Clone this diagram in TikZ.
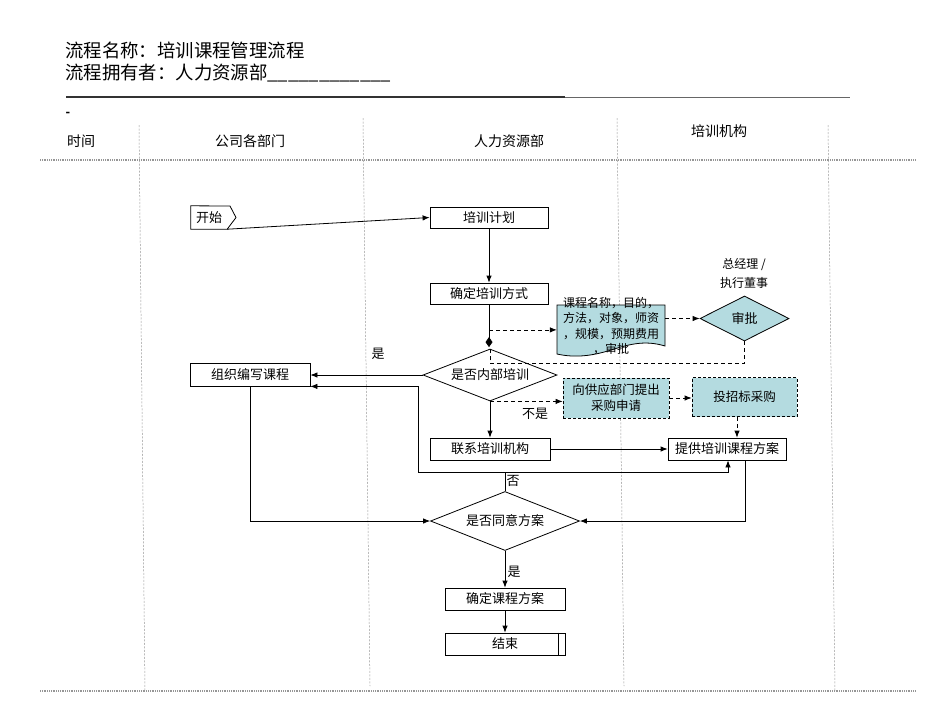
\documentclass[tikz,border=0pt]{standalone}
\usepackage{fontspec}
\setmainfont{Noto Sans CJK SC}
\usetikzlibrary{shapes.geometric,arrows.meta,calc}
\definecolor{teal1}{RGB}{180,219,224}
\definecolor{lanec}{RGB}{150,150,150}
\begin{document}
\begin{tikzpicture}[x=1pt,y=-1pt,
  box/.style={draw,fill=white,line width=0.8pt,minimum height=22pt,inner sep=0pt,font=\fontsize{13}{15}\selectfont},
  tbox/.style={draw,fill=teal1,line width=0.8pt,dash pattern=on 3pt off 2pt,inner sep=0pt,align=center,font=\fontsize{12.5}{16}\selectfont},
  dia/.style={diamond,draw,fill=white,line width=0.8pt,inner sep=0pt,font=\fontsize{13}{15}\selectfont},
  arr/.style={-{Latex[length=7pt,width=5.5pt]},line width=0.8pt},
  darr/.style={arr,dash pattern=on 4pt off 3pt},
  dline/.style={line width=0.8pt,dash pattern=on 4pt off 3pt},
  lbl/.style={font=\fontsize{13}{15}\selectfont,inner sep=0pt},
  hdr/.style={font=\fontsize{14}{16}\selectfont,inner sep=0pt},
  laneline/.style={draw=lanec,line width=0.5pt,dash pattern=on 2pt off 1.5pt},
  hline/.style={draw=lanec,line width=1.3pt,dash pattern=on 1pt off 0.8pt},
]
\useasboundingbox (0,0) rectangle (950,713);
% title
\node[anchor=west,inner sep=0,font=\fontsize{18.4}{20}\selectfont] (t1) at (65,50) {流程名称：培训课程管理流程};
\node[anchor=west,inner sep=0,font=\fontsize{18.4}{20}\selectfont] (t2) at (65,73) {流程拥有者：人力资源部\_\_\_\_\_\_\_\_\_\_\_\_};
\draw[line width=1.8pt,draw=black!80] (66,97) -- (565,97);
\draw[line width=0.8pt,draw=black!60] (565,97) -- (850,97);
\node[inner sep=0,font=\fontsize{12}{14}\selectfont\bfseries] (dsh) at (68,114) {-};
% headers
\node[hdr] (h0) at (81,141) {时间};
\node[hdr] (h1) at (250,141) {公司各部门};
\node[hdr] (h2) at (509,141) {人力资源部};
\node[hdr] (h3) at (719,131) {培训机构};
% lanes
\draw[laneline] (139,125) -- (145,691);
\draw[laneline] (363,118) -- (370,686);
\draw[laneline] (617,118) -- (624,686);
\draw[laneline] (828,125) -- (835,691);
\draw[hline] (40,160) -- (915,160);
\draw[hline] (40,691) -- (915,691);
% start
\node[inner sep=0,minimum width=36pt,minimum height=23pt,font=\fontsize{13}{15}\selectfont] (start) at (209,217.5) {开始};
\draw[line width=0.8pt] (start.north west) -- (230,206) -- (236,217.5) -- (start.south east) -- (start.south west) -- cycle;
% nodes
\node[box,minimum width=118pt,minimum height=21pt] (plan) at (489,217.5) {培训计划};
\node[box,minimum width=118pt,minimum height=21pt] (mode) at (489,293.5) {确定培训方式};
\node[dia,minimum width=134pt,minimum height=52pt,aspect=2.58] (d1) at (490,375) {是否内部培训};
\node[box,minimum width=120pt,minimum height=23pt] (write) at (250,374.5) {组织编写课程};
\node[box,minimum width=120pt,minimum height=22pt] (contact) at (490,449) {联系培训机构};
\node[box,minimum width=118pt,minimum height=22pt] (provide) at (727,449) {提供培训课程方案};
\node[tbox,minimum width=106pt,minimum height=40pt] (req) at (616,398) {向供应部门提出\\采购申请};
\node[tbox,minimum width=105pt,minimum height=39pt] (bid) at (744.5,397) {投招标采购};
\node[dia,fill=teal1,minimum width=89pt,minimum height=45pt,aspect=2] (appr) at (744.5,318.5) {审批};
\node[lbl,font=\fontsize{12}{14}\selectfont] (gm) at (744,265) {总经理 /};
\node[lbl,font=\fontsize{12}{14}\selectfont] (ed) at (744,283) {执行董事};
\node[dia,minimum width=149pt,minimum height=59pt,aspect=2.5] (d2) at (505,521) {是否同意方案};
\node[box,minimum width=120pt] (conf) at (505,599) {确定课程方案};
\node[box,minimum width=120pt] (endn) at (505,644) {结束};
\draw[line width=0.8pt] ([xshift=-7pt]endn.north east) -- ([xshift=-7pt]endn.south east);
% document
\path[draw,fill=teal1,line width=0.8pt] (557,305) -- (665,305) -- (665,346) .. controls (645,340) and (630,344) .. (611,350) .. controls (592,356) and (575,358) .. (557,354) -- cycle;
\node[inner sep=0,minimum width=108pt,align=center,font=\fontsize{12}{15.3}\selectfont] (doc) at (611,326) {课程名称，目的，\\方法，对象，师资\\，规模，预期费用\\，审批};
% connectors
\draw[arr] (start.south east) -- (plan.west);
\draw[arr] (plan.south) -- (plan.south |- mode.north);
\draw[line width=0.8pt,-{Diamond[length=10pt,width=7pt]},shorten >=1.5pt] (mode.south) -- (mode.south |- d1.north);
\coordinate (k1) at ($(mode.south)+(0,25.5)$);
\draw[darr] (k1) -- (k1 -| doc.west);
\draw[darr] (doc.east |- appr.west) -- (appr.west);
\coordinate (k2) at ($(d1.north)+(0,15)$);
\draw[dline] (appr.south) |- (k2) -- (d1.north);
\draw[arr] (d1.west) -- (d1.west -| write.east);
\node[lbl] (yes1) at (378,354) {是};
\draw[arr] (d1.south) -- (d1.south |- contact.north);
\draw[darr] (d1.south) -- (d1.south -| req.west);
\node[lbl] (no1) at (535,414) {不是};
\draw[darr] (req.east) -- (req.east -| bid.west);
\draw[darr] ([xshift=-7.5pt]bid.south) -- ([xshift=-7.5pt]bid.south |- provide.north);
\draw[arr] (contact.east) -- (provide.west);
\coordinate (k3) at ($(d2.north)+(0,-19)$);
\coordinate (k4) at ($(k3)+(-87,0)$);
\draw[arr] (d2.north) -- (k3) -- (k4) |- (write.south east);
\draw[arr] (k3) -| ([xshift=1pt]provide.south);
\node[lbl] (no2) at (513,481) {否};
\draw[arr] (write.south) |- (d2.west);
\draw[arr] ([xshift=18pt]provide.south) |- (d2.east);
\draw[arr] (d2.south) -- (conf.north);
\node[lbl] (yes2) at (514,572) {是};
\draw[arr] (conf.south) -- (endn.north);
\end{tikzpicture}
\end{document}
